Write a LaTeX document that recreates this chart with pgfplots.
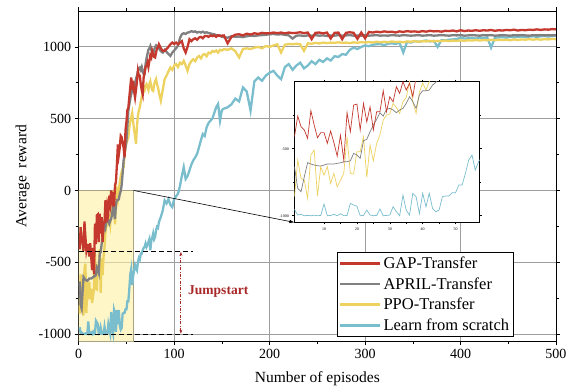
\documentclass[border=0pt]{standalone}
\usepackage{pgfplots}
\pgfplotsset{compat=1.18}
\usepackage{pgfplotstable}
\usepackage{fontspec}
\setmainfont{Liberation Serif}
\usetikzlibrary{arrows.meta,calc}

\definecolor{cred}{RGB}{196,56,46}
\definecolor{cgray}{RGB}{128,128,128}
\definecolor{cyel}{RGB}{238,210,96}
\definecolor{cblue}{RGB}{122,190,206}
\definecolor{jred}{RGB}{168,40,40}
\definecolor{rectfill}{RGB}{255,240,163}
\definecolor{rectdraw}{RGB}{170,160,130}

\pgfplotstableread{
x y
1 -410
2 -256
3 -336
4 -360
5 -423
6 -216
7 -323
8 -418
9 -380
10 -380
11 -460
12 -368
13 -455
14 -555
15 -400
16 -585
17 -231
18 -373
19 -174
20 -167
21 -360
22 -162
23 -300
24 -187
25 -360
26 -224
27 -224
28 -67
29 -224
30 -112
31 -150
32 -37
33 -87
34 0
35 -62
36 -12
37 -112
38 37
39 60
40 180
41 320
42 250
43 300
44 380
45 370
46 330
47 300
48 231
49 420
50 480
51 560
52 578
53 650
54 720
55 787
56 700
57 764
58 690
59 648
60 700
61 760
62 833
63 800
64 799
65 740
66 700
67 671
68 787
69 820
70 860
71 868
72 891
73 860
74 900
75 940
76 926
77 972
78 950
79 930
80 926
81 960
82 990
83 995
84 1018
86 990
88 972
90 972
92 985
94 1000
96 1018
98 1030
100 1020
102 1030
104 1018
106 1030
108 1040
110 990
112 961
114 1000
116 1053
118 1040
120 1053
122 1060
124 1050
126 1065
128 1070
130 1060
132 1075
134 1076
136 1070
138 1080
140 1075
142 1080
144 1070
146 1082
148 1076
150 1078
152 1080
156 1025
160 1070
164 1085
168 1088
172 1080
176 1092
180 1086
184 1095
188 1090
192 1098
196 1094
200 1095
204 1100
208 1096
212 1100
216 1094
220 1100
224 1096
228 1098
232 1102
236 1096
240 1100
244 1054
248 1098
252 1100
256 1094
260 1100
264 1058
268 1098
272 1100
276 1054
280 1098
284 1102
288 1098
292 1056
296 1100
300 1060
304 1104
308 1100
312 1106
316 1102
320 1108
324 1104
328 1106
332 1100
336 1108
340 1104
344 1110
348 1106
352 1108
356 1104
360 1110
364 1106
368 1112
372 1108
376 1110
380 1106
384 1112
388 1110
392 1114
396 1108
400 1116
404 1110
408 1114
412 1112
416 1116
420 1112
424 1116
428 1114
432 1118
436 1112
440 1116
444 1114
448 1118
452 1116
456 1120
460 1114
464 1118
468 1116
472 1120
476 1118
480 1122
484 1118
488 1122
492 1120
496 1124
500 1122
}\redtab

\pgfplotstableread{
x y
1 -634
2 -796
3 -821
4 -709
5 -604
6 -614
7 -622
8 -627
9 -629
10 -622
11 -614
12 -614
13 -614
14 -609
15 -605
16 -597
17 -597
18 -590
19 -535
20 -547
21 -572
22 -440
23 -430
24 -373
25 -323
26 -281
27 -231
28 -256
29 -206
30 -199
31 -211
32 -231
33 -211
34 -199
35 -162
36 -112
37 -149
38 -199
39 -99
40 -67
41 -67
42 -62
43 -25
44 -5
45 40
46 120
47 208
48 250
49 300
50 347
51 450
52 555
53 600
54 640
55 671
56 700
57 720
58 700
59 741
60 780
61 800
62 830
63 850
64 856
65 840
66 860
67 830
68 810
69 810
70 880
71 920
72 950
73 980
74 990
75 1006
76 980
77 960
78 949
79 980
80 1000
81 1010
82 1000
83 1006
84 990
86 970
88 960
90 980
92 965
94 950
96 937
98 960
100 975
102 990
104 1010
106 1060
108 1088
110 1095
112 1090
114 1100
116 1102
118 1110
120 1105
122 1108
124 1100
126 1104
128 1100
130 1106
132 1098
134 1102
136 1096
138 1094
140 1090
142 1088
144 1082
146 1078
148 1080
150 1070
152 1068
156 1064
160 1074
164 1070
168 1072
172 1068
176 1074
180 1078
184 1076
188 1080
192 1082
196 1084
200 1088
204 1090
208 1086
212 1088
216 1084
220 1080
224 1058
228 1078
232 1080
236 1076
240 1080
244 1078
248 1082
252 1078
256 1080
260 1076
264 1080
268 1078
272 1082
276 1078
280 1080
284 1082
288 1078
292 1080
296 1078
300 1082
304 1078
308 1080
312 1082
316 1078
320 1080
324 1078
328 1082
332 1080
336 1078
340 1082
344 1080
348 1078
352 1080
356 1082
360 1078
364 1080
368 1082
372 1078
376 1080
380 1082
384 1080
388 1078
392 1082
396 1080
400 1082
404 1078
408 1080
412 1082
416 1080
420 1078
424 1082
428 1080
432 1082
436 1078
440 1080
444 1082
448 1080
452 1078
456 1082
460 1080
464 1082
468 1080
472 1078
476 1082
480 1080
484 1082
488 1080
492 1082
496 1080
500 1082
}\graytab

\pgfplotstableread{
x y
1 -858
2 -585
3 -721
4 -734
5 -871
6 -547
7 -510
8 -853
9 -634
10 -697
11 -634
12 -759
13 -684
14 -784
15 -734
16 -684
17 -410
18 -684
19 -689
20 -522
21 -522
22 -410
23 -714
24 -473
25 -590
26 -460
27 -398
28 -286
29 -249
30 -241
31 -162
32 -191
33 -236
34 -149
35 -117
36 0
37 -150
38 -236
39 -80
40 -10
41 -62
42 0
43 60
44 100
45 130
46 150
47 162
48 250
49 300
50 330
51 350
52 370
53 440
54 480
55 509
56 540
57 480
58 420
59 380
60 324
61 450
62 520
63 560
64 578
65 620
66 650
67 690
68 717
69 700
70 730
71 741
72 720
73 700
74 740
75 760
76 720
77 700
78 694
79 740
80 760
81 775
82 740
83 720
84 683
86 625
88 700
90 775
92 800
94 830
96 856
98 840
100 870
102 880
104 860
106 890
108 880
110 903
112 870
114 833
116 880
118 900
120 914
122 900
124 925
126 937
128 920
130 945
132 950
134 935
136 960
138 955
140 972
142 965
144 975
146 960
148 980
150 975
152 984
156 980
160 990
164 970
168 926
172 985
176 990
180 985
184 995
188 1000
192 990
196 1006
200 1000
204 1010
208 1018
212 961
216 1015
220 1020
224 1018
228 1022
232 1018
236 972
240 1025
244 1022
248 1028
252 1024
256 1030
260 1026
264 1030
268 1028
272 1032
276 1028
280 1030
284 1026
288 1032
292 1028
296 1034
300 1030
304 1034
308 1030
312 1036
316 1032
320 1036
324 1032
328 1038
332 1034
336 1036
340 1032
344 1038
348 1036
352 1040
356 1036
360 1040
364 1038
368 1042
372 1038
376 1042
380 1040
384 1044
388 1040
392 1044
396 1042
400 1046
404 1042
408 1046
412 1044
416 1048
420 1044
424 1048
428 1046
432 1050
436 1046
440 1050
444 1048
448 1050
452 1046
456 1052
460 1048
464 1052
468 1050
472 1054
476 1050
480 1054
484 1050
488 1054
492 1052
496 1056
500 1053
}\yeltab

\pgfplotstableread{
x y
1 -953
2 -995
3 -990
4 -1000
5 -998
6 -1000
7 -996
8 -1000
9 -998
10 -913
11 -1000
12 -998
13 -990
14 -1000
15 -985
16 -1000
17 -998
18 -908
19 -920
20 -930
21 -1000
22 -998
23 -958
24 -995
25 -1000
26 -998
27 -950
28 -1000
29 -998
30 -995
31 -933
32 -970
33 -1000
34 -846
35 -960
36 -995
37 -833
38 -858
39 -985
40 -833
41 -933
42 -833
43 -945
44 -970
45 -958
46 -858
47 -853
48 -853
49 -828
50 -828
51 -771
52 -771
53 -684
54 -585
55 -547
56 -659
57 -597
58 -560
59 -520
60 -540
61 -555
62 -500
63 -470
64 -480
65 -440
66 -440
67 -420
68 -400
69 -394
70 -370
71 -394
72 -380
73 -360
74 -340
75 -417
76 -350
77 -330
78 -300
79 -340
80 -324
81 -280
82 -254
83 -260
84 -220
86 -185
88 -140
90 -69
92 -90
94 -60
96 -100
98 -116
100 -60
102 -40
104 -23
106 30
108 100
110 162
112 80
114 100
116 139
118 180
120 210
122 230
124 255
126 300
128 350
130 393
132 380
134 440
136 470
138 486
140 500
142 540
144 580
146 602
148 486
150 560
152 570
156 579
160 600
164 640
168 620
172 717
176 690
180 556
184 760
188 787
192 764
196 800
200 820
204 833
208 800
212 775
216 860
220 880
224 840
228 870
232 890
236 850
240 870
244 900
248 880
252 910
256 895
260 920
264 905
268 935
272 930
276 950
280 945
284 980
288 995
292 985
296 1000
300 1010
304 1005
308 1015
312 1018
316 1020
320 1012
324 1022
328 1025
332 1020
336 1030
340 961
344 1035
348 1030
352 1041
356 1035
360 1040
364 1045
368 1038
372 1042
376 1000
380 1048
384 1045
388 1050
392 1052
396 1055
400 1064
404 1058
408 1060
412 1062
416 1058
420 1064
424 1062
428 1066
432 995
436 1064
440 1066
444 1068
448 1064
452 1070
456 1066
460 1070
464 1072
468 1068
472 1072
476 1074
480 1070
484 1074
488 1076
492 1072
496 1076
500 1076
}\bluetab

\begin{document}
\begin{tikzpicture}
\begin{axis}[
  name=main,
  scale only axis, width=477pt, height=330pt,
  xmin=0, xmax=500, ymin=-1050, ymax=1250,
  xtick={0,100,...,500}, ytick={-1000,-500,0,500,1000},
  minor x tick num=1, minor ytick={-750,-250,250,750},
  grid=major, major grid style={line width=0.8pt, color=black!38},
  tick align=outside, major tick length=4pt, minor tick length=3pt,
  tick style={black, line width=0.6pt},
  axis line style={line width=0.8pt},
  xlabel={Number of episodes}, ylabel={Average\ \ reward},
  label style={font=\fontsize{15.5}{17}\selectfont},
  xlabel style={yshift=-7pt},
  ylabel style={yshift=2pt},
  tick label style={font=\fontsize{14}{16}\selectfont},
  /pgf/number format/assume math mode=true,
  /pgf/number format/1000 sep={},
  legend style={at={(rel axis cs:0.911,0.013)}, anchor=south east, draw=black, thick,
    font=\fontsize{16.5}{19}\selectfont, cells={anchor=west}, inner xsep=2pt, inner ysep=2.5pt, row sep=3.5pt},
  legend image code/.code={\draw[#1, line width=2.6pt, line cap=butt] (0pt,0pt) -- (40pt,0pt);},
]
\addlegendimage{cred}\addlegendentry{GAP-Transfer}
\addlegendimage{cgray}\addlegendentry{APRIL-Transfer}
\addlegendimage{cyel}\addlegendentry{PPO-Transfer}
\addlegendimage{cblue}\addlegendentry{Learn from scratch}
\fill[rectfill, fill opacity=0.6] (axis cs:0,-1050) rectangle (axis cs:57.5,0);
\draw[rectdraw, line width=0.8pt] (axis cs:0,-1050) rectangle (axis cs:57.5,0);
\addplot[cblue, line width=2.3pt, forget plot] table {\bluetab};
\addplot[cyel, line width=2.3pt, forget plot] table {\yeltab};
\addplot[cgray, line width=2.3pt, forget plot] table {\graytab};
\addplot[cred, line width=2.3pt, forget plot] table {\redtab};
\draw[black, line width=0.8pt, dash pattern=on 5pt off 3pt] (axis cs:0,-425) -- (axis cs:120,-425);
\draw[black, line width=0.8pt, dash pattern=on 5pt off 3pt] (axis cs:0,-1000) -- (axis cs:120,-1000);
\draw[jred, line width=0.8pt, dash pattern=on 3pt off 1.5pt on 0.8pt off 1.5pt, {Stealth[length=4pt,width=3pt]}-{Stealth[length=4pt,width=3pt]}] (axis cs:107,-998) -- (axis cs:107,-428);
\node[jred, anchor=west, font=\bfseries\fontsize{13.5}{15}\selectfont] at (axis cs:111,-705) {Jumpstart};
\coordinate (zc) at (axis cs:57.5,0);
\end{axis}
\begin{axis}[
  name=inset,
  at={($(main.south west)+(215.6pt,118.7pt)$)}, anchor=south west,
  scale only axis, width=185pt, height=140.6pt,
  xmin=1, xmax=57.3, ymin=-1050, ymax=0,
  xtick={10,20,30,40,50}, ytick={-1000,-500}, minor ytick={-750,-250},
  minor x tick num=1,
  axis background/.style={fill=white},
  axis line style={line width=0.9pt},
  tick align=outside, major tick length=2pt, minor tick length=1.5pt,
  tick style={black, line width=0.5pt},
  tick label style={font=\fontsize{4}{5}\selectfont},
  /pgf/number format/assume math mode=true,
  /pgf/number format/1000 sep={},
]
\addplot[cblue, line width=0.7pt] table {\bluetab};
\addplot[cyel, line width=0.7pt] table {\yeltab};
\addplot[cgray, line width=0.7pt] table {\graytab};
\addplot[cred, line width=0.7pt] table {\redtab};
\end{axis}
\draw[black, line width=0.6pt, -{Latex[length=5pt,width=3.5pt]}] (zc) -- (inset.south west);
\pgfresetboundingbox
\path[use as bounding box] ($(main.south west)+(-78.7pt,-46pt)$) rectangle ($(main.north east)+(15pt,11pt)$);
\end{tikzpicture}
\end{document}
